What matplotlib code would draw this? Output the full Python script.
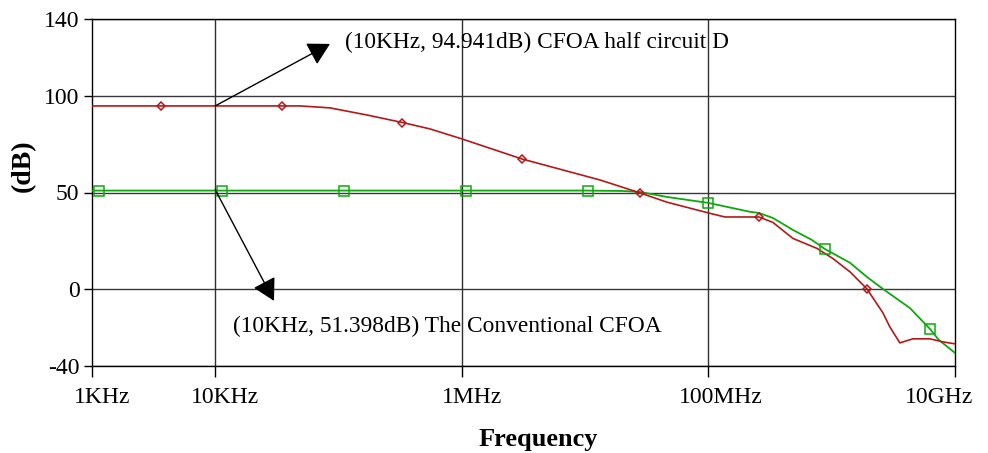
import numpy as np
import matplotlib
matplotlib.use("Agg")
import matplotlib.pyplot as plt
import matplotlib.transforms as mtransforms

# ---- data ----
red_freq = [1e3, 4.9e4, 8.5e4, 1.7e5, 3.3e5, 5.5e5, 1.0e6, 3.07e6, 1.32e7, 2.78e7,
            4.6e7, 1.0e8, 1.36e8, 2.57e8, 3.33e8, 4.84e8, 7.59e8, 1.02e9, 1.41e9,
            1.93e9, 2.6e9, 2.96e9, 3.57e9, 4.56e9, 6.25e9, 7.98e9, 1.0e10]
red_db = [94.9, 94.9, 93.9, 90.2, 86.3, 83.0, 77.8, 67.4, 56.5, 49.8,
          45.0, 39.4, 37.3, 37.3, 34.5, 26.2, 21.0, 15.8, 8.8,
          0.0, -12.4, -19.7, -28.0, -25.9, -25.9, -27.5, -28.5]
red_mark_freq = [3.6e3, 3.5e4, 3.3e5, 3.07e6, 2.78e7, 2.57e8, 1.93e9]
red_mark_db = [94.9, 94.9, 86.3, 67.4, 49.8, 37.3, 0.0]

green_freq = [1e3, 1e4, 1.0e7, 2.0e7, 2.78e7, 4.6e7, 1.0e8, 2.17e8, 2.57e8, 3.33e8,
              4.84e8, 6.9e8, 8.8e8, 1.41e9, 1.93e9, 2.6e9, 4.3e9, 6.25e9, 7.4e9, 1.0e10]
green_db = [51.0, 51.0, 51.0, 50.8, 50.3, 47.7, 44.6, 40.0, 39.4, 36.8,
            30.6, 25.4, 20.7, 13.5, 6.2, 0.0, -9.9, -20.7, -26.5, -33.2]
green_mark_freq = [1.14e3, 1.13e4, 1.1e5, 1.08e6, 1.05e7, 1.0e8, 8.8e8, 6.25e9]
green_mark_db = [51.0, 51.0, 51.0, 51.0, 51.0, 44.6, 20.7, -20.7]

x_ticks = [1e3, 1e4, 1e6, 1e8, 1e10]
x_labels = ["1KHz", "10KHz", "1MHz", "100MHz", "10GHz"]
y_ticks = [-40, 0, 50, 100, 140]
y_labels = ["-40", "0", "50", "100", "140"]

ann1_text = "(10KHz, 94.941dB) CFOA half circuit D"
ann1_point = (1e4, 94.941)
ann2_text = "(10KHz, 51.398dB) The Conventional CFOA"
ann2_point = (1e4, 51.398)

# ---- plot ----
plt.rcParams['font.family'] = ['Liberation Serif', 'DejaVu Serif']
fig = plt.figure(figsize=(9.88, 4.53), dpi=100)
ax = fig.add_axes([92/988, 1-366/453, (955-92)/988, (366-19)/453])
ax.set_xscale('log')
ax.set_xlim(1e3, 1e10)
ax.set_ylim(-40, 140)


def px_to_data(px, py):
    return 10**(3 + (px - 92)/123.3), (289 - py)/1.928


for y in y_ticks:
    ax.axhline(y, color='#383838', lw=1.0, zorder=1)
for x in x_ticks[1:-1]:
    ax.axvline(x, color='#303030', lw=1.0, zorder=1)

red = '#b41818'
green = '#0ea80e'
ax.plot(green_freq, green_db, color=green, lw=1.3, zorder=3)
ax.plot(green_mark_freq, green_mark_db, ls='none', marker='s', ms=6.5, mfc='none',
        mec=green, mew=1.1, zorder=4)
ax.plot(red_freq, red_db, color=red, lw=1.2, zorder=3)
ax.plot(red_mark_freq, red_mark_db, ls='none', marker='D', ms=4.5, mfc='none',
        mec=red, mew=1.1, zorder=4)

ax.set_xticks(x_ticks)
ax.set_xticklabels(x_labels)
ax.minorticks_off()
ax.set_yticks(y_ticks)
ax.set_yticklabels(y_labels)
ax.tick_params(axis='both', labelsize=17, width=1, color='black')
ax.tick_params(axis='x', length=8, pad=7)
ax.tick_params(axis='y', length=6, pad=3)
for s in ax.spines.values():
    s.set_linewidth(1.0)
    s.set_color('black')

# shift x tick labels as in the reference
shifts = [10, 10, 10, 12, -16]
for lab, dx in zip(ax.get_xticklabels(), shifts):
    off = mtransforms.ScaledTranslation(dx/100, 0, fig.dpi_scale_trans)
    lab.set_transform(lab.get_transform() + off)

ax.set_xlabel("Frequency", fontsize=19, fontweight='bold')
ax.xaxis.set_label_coords((538-92)/863, (366-428)/347)
ax.set_ylabel("(dB)", fontsize=20, fontweight='bold')
ax.yaxis.set_label_coords((36-92)/863, (366-166)/347)

arrow_kw = dict(arrowstyle='-|>,head_length=1.35,head_width=0.75', color='black', lw=1.0,
                shrinkA=0, shrinkB=0)
ax.annotate("", xy=px_to_data(330, 44), xytext=ann1_point,
            arrowprops=arrow_kw, zorder=5)
ax.text(*px_to_data(345, 43), ann1_text, fontsize=16.8,
        va='center', ha='left', zorder=5)
ax.annotate("", xy=px_to_data(274, 301), xytext=ann2_point,
            arrowprops=arrow_kw, zorder=5)
ax.text(*px_to_data(233, 327), ann2_text, fontsize=16.8,
        va='center', ha='left', zorder=5)

fig.savefig("out.png", dpi=100)
